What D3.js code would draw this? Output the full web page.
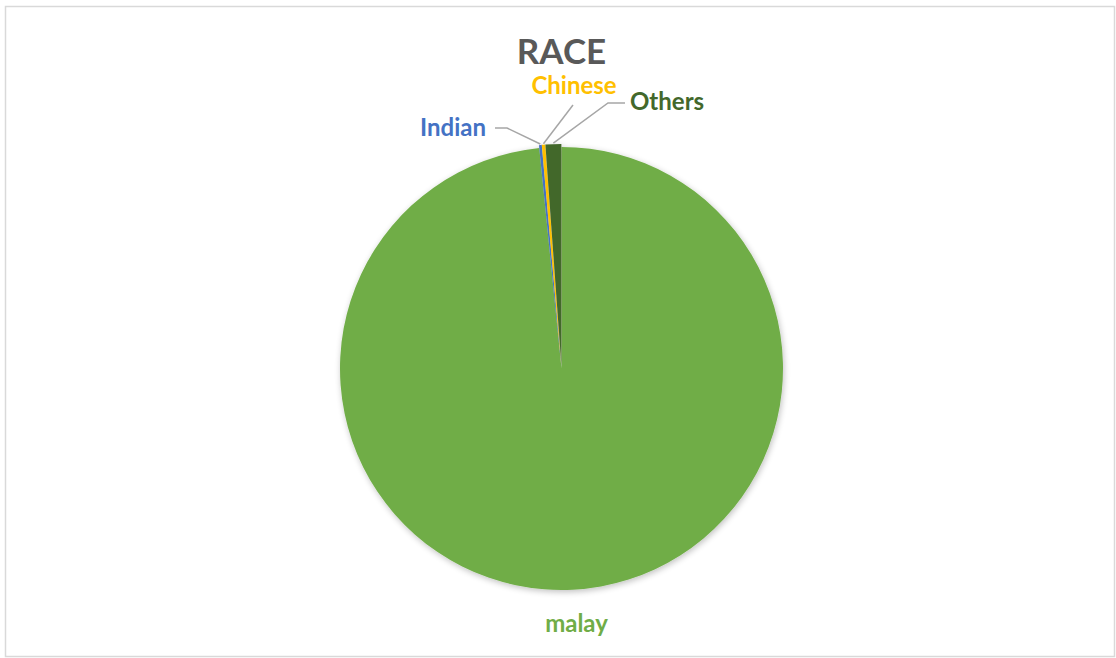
<!DOCTYPE html>
<html>
<head>
<meta charset="utf-8">
<script src="https://cdn.jsdelivr.net/npm/d3@7/dist/d3.min.js"></script>
<style>
  html, body { margin: 0; padding: 0; background: #fff; }
  svg { display: block; }
  text { font-family: Lato, "Open Sans", sans-serif; font-weight: bold; }
</style>
</head>
<body>
<div id="chart"></div>
<script>
// Race breakdown (share of respondents, %)
const categories = ["malay", "Indian", "Chinese", "Others"];
const values = [98.4, 0.2, 0.25, 1.15];
const colors = ["#70AD47", "#4472C4", "#FFC000", "#43682B"];
const title = "RACE";

const W = 1116, H = 658;
const cx = 561.5, cy = 368.5, R = 221.5;

const svg = d3.select("#chart").append("svg")
  .attr("width", W).attr("height", H);

// soft shadow under the pie
const defs = svg.append("defs");
const f = defs.append("filter").attr("id", "soft").attr("x", "-10%").attr("y", "-10%")
  .attr("width", "120%").attr("height", "120%");
f.append("feGaussianBlur").attr("in", "SourceAlpha").attr("stdDeviation", 3).attr("result", "b");
f.append("feOffset").attr("in", "b").attr("dx", 1).attr("dy", 2).attr("result", "o");
f.append("feComponentTransfer").attr("in", "o").attr("result", "s")
  .append("feFuncA").attr("type", "linear").attr("slope", 0.25);
const m = f.append("feMerge");
m.append("feMergeNode").attr("in", "s");
m.append("feMergeNode").attr("in", "SourceGraphic");

// chart frame
svg.append("rect")
  .attr("x", 5.5).attr("y", 6.5).attr("width", 1109).attr("height", 650)
  .attr("fill", "#fff").attr("stroke", "#D9D9D9").attr("stroke-width", 1.5);

svg.append("text")
  .attr("x", cx).attr("y", 64)
  .attr("text-anchor", "middle")
  .attr("fill", "#595959")
  .attr("font-size", 35)
  .text(title);

const data = categories.map((c, i) => ({ name: c, value: values[i], color: colors[i] }));

const pie = d3.pie().value(d => d.value).sort(null);
const arcs = pie(data);
const arc = d3.arc().innerRadius(0).outerRadius(R);

const g = svg.append("g").attr("transform", `translate(${cx},${cy})`)
  .attr("filter", "url(#soft)");

// small slices are pulled out a little from the centre
const explode = d => (d.index === 0 ? 0 : 3);

g.selectAll("path").data(arcs).join("path")
  .attr("d", arc)
  .attr("fill", d => d.data.color)
  .attr("transform", d => {
    const a = (d.startAngle + d.endAngle) / 2;
    const e = explode(d);
    return `translate(${e * Math.sin(a)},${-e * Math.cos(a)})`;
  });

// label placement (offsets from the pie centre) and leader-line elbows
const labelPos = {
  malay:   { x: 15,   y: 257.5, anchor: "middle" },
  Indian:  { x: -75.5, y: -238.5, anchor: "end" },
  Chinese: { x: 12.5, y: -281, anchor: "middle" },
  Others:  { x: 68.5, y: -264.5, anchor: "start" }
};
const leaders = {
  Indian:  [[-66.5, -240.5], [-54.5, -240.5]],
  Chinese: [[11.5, -263.5]],
  Others:  [[63.5, -265.5], [46.5, -265.5]]
};

const lbl = svg.append("g").attr("transform", `translate(${cx},${cy})`);

arcs.forEach(d => {
  const name = d.data.name;
  if (leaders[name]) {
    // line runs label -> elbow -> outer edge of the slice
    const a = (d.startAngle + d.endAngle) / 2;
    const r = R + explode(d) + 1;
    const tip = [r * Math.sin(a), -r * Math.cos(a)];
    lbl.append("path")
      .attr("d", d3.line()(leaders[name].concat([tip])))
      .attr("fill", "none")
      .attr("stroke", "#A6A6A6")
      .attr("stroke-width", 1.5);
  }
  const p = labelPos[name];
  lbl.append("text")
    .attr("x", p.x).attr("y", p.y)
    .attr("text-anchor", p.anchor)
    .attr("dominant-baseline", "middle")
    .attr("fill", d.data.color)
    .attr("font-size", 24)
    .text(name);
});
</script>
</body>
</html>
